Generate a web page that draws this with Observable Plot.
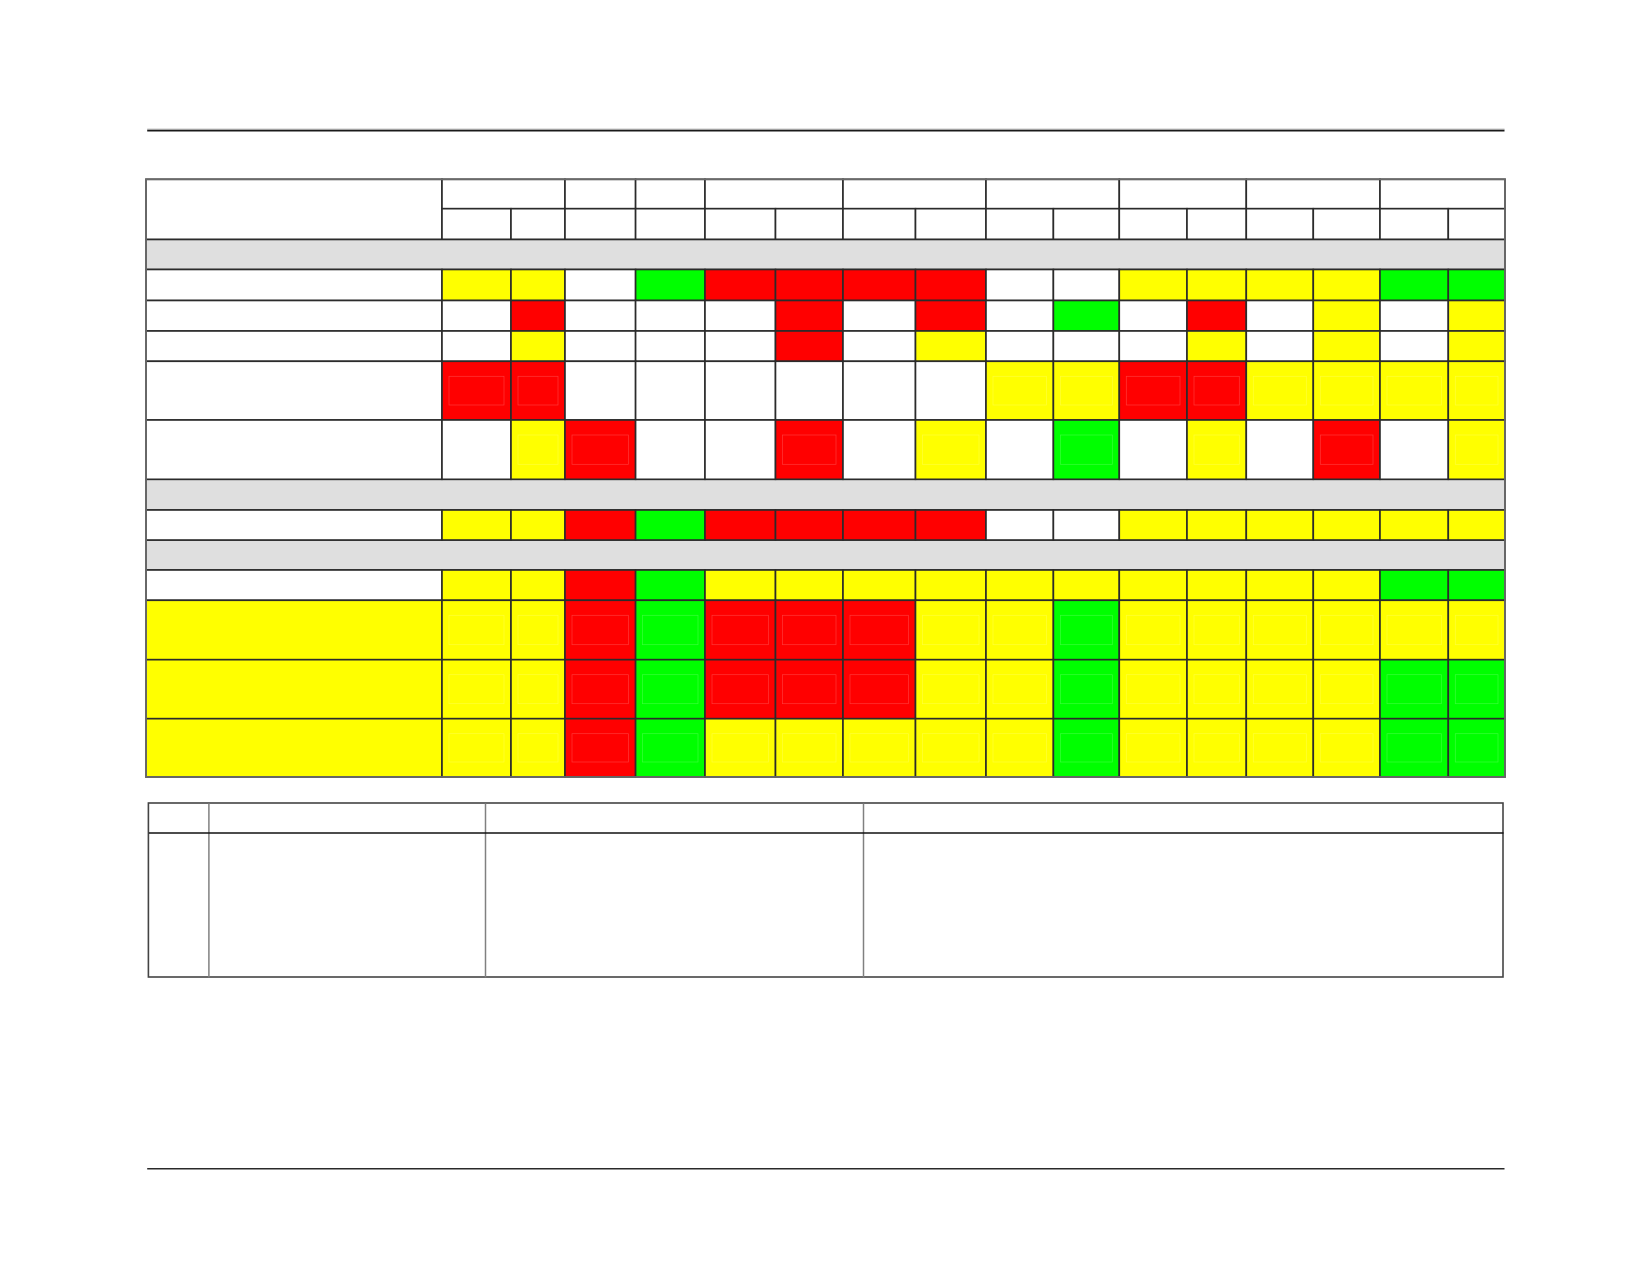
<!DOCTYPE html>
<html>
<head>
<meta charset="utf-8">
<script src="https://cdn.jsdelivr.net/npm/d3@7"></script>
<script src="https://cdn.jsdelivr.net/npm/@observablehq/plot@0.6"></script>
<style>
  html, body { margin: 0; padding: 0; background: #fff; }
  svg { display: block; }
</style>
</head>
<body>
<div id="chart"></div>
<script>
// ---------------- DATA (status codes per cell) ----------------
// W = white/no rating, Y = yellow, R = red, G = green, H = grey section band
const columnKeys = ["c1","c2","c3","c4","c5","c6","c7","c8","c9","c10","c11","c12","c13","c14","c15","c16"];
const headerGroups = [[0,2],[2,3],[3,4],[4,6],[6,8],[8,10],[10,12],[12,14],[14,16]];

const sectionA = [
  ["Y","Y","W","G","R","R","R","R","W","W","Y","Y","Y","Y","G","G"],
  ["W","R","W","W","W","R","W","R","W","G","W","R","W","Y","W","Y"],
  ["W","Y","W","W","W","R","W","Y","W","W","W","Y","W","Y","W","Y"],
  ["R","R","W","W","W","W","W","W","Y","Y","R","R","Y","Y","Y","Y"],
  ["W","Y","R","W","W","R","W","Y","W","G","W","Y","W","R","W","Y"]
];
const sectionB = [
  ["Y","Y","R","G","R","R","R","R","W","W","Y","Y","Y","Y","Y","Y"]
];
const sectionC = [
  ["Y","Y","R","G","Y","Y","Y","Y","Y","Y","Y","Y","Y","Y","G","G"],
  ["Y","Y","R","G","R","R","R","Y","Y","G","Y","Y","Y","Y","Y","Y"],
  ["Y","Y","R","G","R","R","R","Y","Y","G","Y","Y","Y","Y","G","G"],
  ["Y","Y","R","G","Y","Y","Y","Y","Y","G","Y","Y","Y","Y","G","G"]
];
const rowLabelStatus = ["W","W","W","W","W","W","W","Y","Y","Y"];

// ---------------- LAYOUT (page geometry, not data) ----------------
const colEdges = [146, 442, 511, 565, 635.6, 705, 775.5, 843, 915.5, 986, 1053.4, 1119.3, 1187, 1246.3, 1313.3, 1380, 1448.3, 1505];
const rowEdges = [179.3, 208.7, 239.5, 269.5, 300.5, 331, 361.3, 420, 479.3, 510, 540, 570, 600.3, 659.7, 718.7, 777];
const greyRows = [2, 8, 10];
const dataRowSlots = [3, 4, 5, 6, 7, 9, 11, 12, 13, 14];
const tallSlots = [6, 7, 12, 13, 14];

const notesCols = [148.4, 208.4, 485, 863, 1503];
const notesRows = [803, 832.4, 977];

// ---------------- BUILD CELLS ----------------
const cells = [];
cells.push({x1: colEdges[0], x2: colEdges[1], y1: rowEdges[0], y2: rowEdges[2], code: "W"});
headerGroups.forEach(([a, b]) => cells.push({x1: colEdges[a+1], x2: colEdges[b+1], y1: rowEdges[0], y2: rowEdges[1], code: "W"}));
columnKeys.forEach((k, i) => cells.push({x1: colEdges[i+1], x2: colEdges[i+2], y1: rowEdges[1], y2: rowEdges[2], code: "W"}));
greyRows.forEach(s => cells.push({x1: colEdges[0], x2: colEdges[17], y1: rowEdges[s], y2: rowEdges[s+1], code: "H"}));
const allRows = [...sectionA, ...sectionB, ...sectionC];
const inner = [];
allRows.forEach((row, r) => {
  const s = dataRowSlots[r];
  cells.push({x1: colEdges[0], x2: colEdges[1], y1: rowEdges[s], y2: rowEdges[s+1], code: rowLabelStatus[r]});
  row.forEach((code, i) => {
    const c = {x1: colEdges[i+1], x2: colEdges[i+2], y1: rowEdges[s], y2: rowEdges[s+1], code};
    cells.push(c);
    if (tallSlots.includes(s) && code !== "W") inner.push(c);
  });
});

const frame = [{x1: colEdges[0], x2: colEdges[17], y1: rowEdges[0], y2: rowEdges[15]}];
const notesFrame = [{x1: notesCols[0], x2: notesCols[4], y1: notesRows[0], y2: notesRows[2]}];
const notesVerticals = notesCols.slice(1, 4).map(x => ({x1: x, x2: x, y1: notesRows[0], y2: notesRows[2]}));
const notesHeaderLine = [{x1: notesCols[0], x2: notesCols[4], y1: notesRows[1], y2: notesRows[1]}];
const pageRules = [
  {x1: 146.7, x2: 1504, y1: 130, y2: 130, c: "#1a1a1a", w: 2},
  {x1: 146.7, x2: 1504, y1: 128.3, y2: 128.3, c: "#d8d8d8", w: 1},
  {x1: 146.7, x2: 1504, y1: 1168.3, y2: 1168.3, c: "#2a2a2a", w: 1.6}
];

const chart = Plot.plot({
  width: 1650,
  height: 1275,
  margin: 0,
  x: {type: "linear", domain: [0, 1650], range: [0, 1650], axis: null},
  y: {type: "linear", domain: [0, 1275], range: [0, 1275], axis: null},
  color: {type: "ordinal", domain: ["W","Y","R","G","H"], range: ["#ffffff","#ffff00","#ff0000","#00ff00","#dfdfdf"]},
  marks: [
    Plot.rect(cells, {x1: "x1", x2: "x2", y1: "y1", y2: "y2", fill: "code", stroke: "#2b2b2b", strokeWidth: 1.6}),
    Plot.rect(inner, {x1: "x1", x2: "x2", y1: "y1", y2: "y2", fill: "none", stroke: "#fff", strokeOpacity: 0.22, strokeWidth: 0.7, insetLeft: 7, insetRight: 7, insetTop: 15, insetBottom: 15}),
    Plot.rect(frame, {x1: "x1", x2: "x2", y1: "y1", y2: "y2", fill: "none", stroke: "#6a6a6a", strokeWidth: 1.8}),
    Plot.rect(notesFrame, {x1: "x1", x2: "x2", y1: "y1", y2: "y2", fill: "#fff", stroke: "#444", strokeWidth: 1.6}),
    Plot.link(notesVerticals, {x1: "x1", x2: "x2", y1: "y1", y2: "y2", stroke: "#808080", strokeWidth: 1.5}),
    Plot.link(notesHeaderLine, {x1: "x1", x2: "x2", y1: "y1", y2: "y2", stroke: "#111", strokeWidth: 1.5}),
    Plot.link(pageRules, {x1: "x1", x2: "x2", y1: "y1", y2: "y2", stroke: d => d.c, strokeWidth: d => d.w})
  ]
});
document.getElementById("chart").appendChild(chart);
</script>
</body>
</html>
